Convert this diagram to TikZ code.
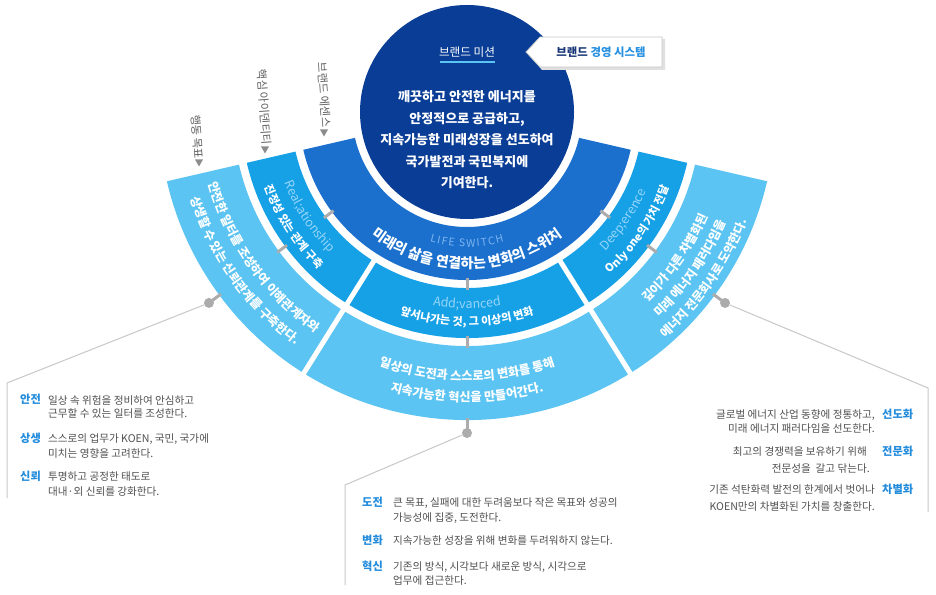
\documentclass[tikz,border=0pt]{standalone}
\usepackage{fontspec}
\setmainfont{Noto Sans CJK KR}
\usetikzlibrary{decorations.text,calc}
\definecolor{navy}{RGB}{10,62,150}
\definecolor{bandA}{RGB}{27,112,205}
\definecolor{bandB}{RGB}{22,160,230}
\definecolor{bandC}{RGB}{92,196,242}
\definecolor{paleB}{RGB}{150,214,248}
\definecolor{paleA}{RGB}{125,180,240}
\definecolor{tickgray}{RGB}{172,172,172}
\definecolor{linegray}{RGB}{200,200,200}
\definecolor{headblue}{RGB}{35,140,220}
\definecolor{bodygray}{RGB}{80,80,80}
\definecolor{labelgray}{RGB}{95,95,95}
\definecolor{boxnavy}{RGB}{25,55,120}
\definecolor{boxblue}{RGB}{40,145,225}
\newcommand{\sector}[5]{\fill[#1] (#2:#4pt) arc[start angle=#2,end angle=#3,radius=#4pt] -- (#3:#5pt) arc[start angle=#3,end angle=#2,radius=#5pt] -- cycle;}
\newcommand{\arctext}[3]{\path[decorate,decoration={text along path,text align=center,text={#3}}] ({#2-70}:#1pt) arc[start angle={#2-70},end angle={#2+70},radius=#1pt];}
\newcommand{\wtb}{|\color{white}\bfseries\fontsize{12.2}{14}\selectfont|}
\newcommand{\wtm}{|\color{white}\bfseries\fontsize{11.1}{13}\selectfont|}
\newcommand{\ltm}{|\color{paleB}\fontsize{12.5}{14}\selectfont|}
\newcommand{\ks}{{\kern1.3pt}}
\tikzset{
  body/.style={font=\fontsize{10.6}{12}\selectfont, text=bodygray, inner sep=0pt},
  head/.style={font=\bfseries\fontsize{11.2}{13}\selectfont, text=headblue, inner sep=0pt},
  rotlabel/.style={font=\fontsize{11.3}{13}\selectfont, text=labelgray, rotate=-86, inner sep=0pt},
  dot/.style={circle, fill=tickgray, minimum size=10pt, inner sep=0pt},
  tick/.style={tickgray, line width=3pt},
  leader/.style={linegray, line width=1pt},
  gap/.style={white, line width=5pt},
}
\begin{document}
\begin{tikzpicture}[x=1pt,y=1pt]
\useasboundingbox (0,0) rectangle (936,594);
\fill[white] (0,0) rectangle (936,594);
\coordinate (C) at (467,482);
\begin{scope}[shift={(C)}]
  % rings
  \sector{bandA}{193}{347}{115}{168}
  \sector{bandB}{193}{347}{176}{226}
  \sector{bandC}{193}{347}{234}{308}
  \draw[gap] (238:172pt) -- (238:312pt);
  \draw[gap] (302:172pt) -- (302:312pt);
  % mission circle
  \fill[navy] (0,0) circle[radius=107pt];
  % ticks between rings
  \foreach \a in {216.5,270,323.5}{
    \draw[tick] (\a:166pt) -- (\a:178pt);
    \draw[tick] (\a:224pt) -- (\a:236pt);
  }
  % dots
  \node[dot] (dL) at (216.5:321pt) {};
  \node[dot] (dM) at (270:321pt) {};
  \node[dot] (dR) at (323.5:321pt) {};
  \draw[tick] (216.5:306pt) -- (dL.center);
  \draw[tick] (270:306pt) -- (dM.center);
  \draw[tick] (323.5:306pt) -- (dR.center);
  % arc texts
  \arctext{135}{270}{|\color{paleA}\fontsize{10.5}{13}\selectfont|L\ks I\ks F\ks E \ S\ks W\ks I\ks T\ks C\ks H}
  \arctext{156.5}{270}{|\color{white}\bfseries\fontsize{14}{16}\selectfont|미래의 삶을 연결하는 변화의 스위치}
  \arctext{196}{213.5}{\ltm Real{;}ationship}
  \arctext{216}{213.5}{\wtm 진정성 있는 관계 구축}
  \arctext{196.5}{270}{\ltm Add{;}vanced}
  \arctext{213.5}{270}{\wtm 앞서나가는 것, 그 이상의 변화}
  \arctext{196}{325.5}{\ltm Deep{;}erence}
  \arctext{216}{325.5}{\wtm Only one의 가치 전달}
  \arctext{268}{215.5}{\wtb 안전한 일터를 조성하여 이해관계자와}
  \arctext{289.5}{215.5}{\wtb 상생할 수 있는 신뢰관계를 구축한다.}
  \arctext{268.5}{270}{\wtb 일상의 도전과 스스로의 변화를 통해}
  \arctext{289.5}{270}{\wtb 지속가능한 혁신을 만들어간다.}
  \arctext{262.5}{325}{\wtb 깊이가 다른 차별화된}
  \arctext{281.5}{325}{\wtb 미래 에너지 패러다임을}
  \arctext{300.5}{325}{\wtb 에너지 전문회사로 도약한다.}
\end{scope}
% leader lines
\coordinate (kL) at (7,211);
\coordinate (eL) at (7,96);
\coordinate (kM) at (345,109);
\coordinate (eM) at (345,9);
\coordinate (kR) at (928,206);
\coordinate (eR) at (928,82);
\draw[leader] (dL) -- (kL) -- (eL);
\draw[leader] (dM) -- (kM) -- (eM);
\draw[leader] (dR) -- (kR) -- (eR);
% mission
\node[font=\fontsize{11.6}{13}\selectfont, text=white, inner sep=0pt] (mtitle) at (467,542) {브랜드 미션};
\draw[bandC, line width=1.6pt] (440,532) -- (495,532);
\node[align=center, font=\bfseries\fontsize{13}{21.5}\selectfont, text=white] (mission) at (467,454) {깨끗하고 안전한 에너지를\\안정적으로 공급하고,\\지속가능한 미래성장을 선도하여\\국가발전과 국민복지에\\기여한다.};
% system box
\fill[black!12] (528,540) -- (542,555) -- (665,555) -- (665,524) -- (542,524) -- cycle;
\filldraw[fill=white, draw=black!22, line width=0.8pt] (526,542) -- (540,557) -- (662,557) -- (662,527) -- (540,527) -- cycle;
\node[font=\bfseries\fontsize{11.4}{13}\selectfont, inner sep=0pt] (sys) at (601,542) {\textcolor{boxnavy}{브랜드} \textcolor{boxblue}{경영 시스템}};
% rotated labels
\node[rotlabel] (lab1) at (197,457) {행동 목표};
\node[rotlabel] (lab2) at (264,487) {핵심 아이덴티티};
\node[rotlabel] (lab3) at (324,499) {브랜드 에센스};
\foreach \x/\y in {199/431, 265/444, 324/461}{
  \fill[black!45] (\x-4,\y+3.5) -- (\x+4,\y+3.5) -- (\x,\y-3.5) -- cycle;
}
% left block
\node[head, anchor=base west] (h1) at (20,190) {안전};
\node[body, anchor=base west] (b1a) at (48,189) {일상 속 위험을 정비하여 안심하고};
\node[body, anchor=base west] (b1b) at (48,176) {근무할 수 있는 일터를 조성한다.};
\node[head, anchor=base west] (h2) at (20,151) {상생};
\node[body, anchor=base west] (b2a) at (48,151) {스스로의 업무가 KOEN, 국민, 국가에};
\node[body, anchor=base west] (b2b) at (48,136) {미치는 영향을 고려한다.};
\node[head, anchor=base west] (h3) at (20,113) {신뢰};
\node[body, anchor=base west] (b3a) at (48,113) {투명하고 공정한 태도로};
\node[body, anchor=base west] (b3b) at (48,98) {대내·외 신뢰를 강화한다.};
% right block
\node[head, anchor=base west] (h4) at (882,175) {선도화};
\node[body, anchor=base east] (b4a) at (875,175) {글로벌 에너지 산업 동향에 정통하고,};
\node[body, anchor=base east] (b4b) at (875,161) {미래 에너지 패러다임을 선도한다.};
\node[head, anchor=base west] (h5) at (882,138) {전문화};
\node[body, anchor=base east] (b5a) at (867,138) {최고의 경쟁력을 보유하기 위해};
\node[body, anchor=base east] (b5b) at (870,121) {전문성을 \ 갈고 닦는다.};
\node[head, anchor=base west] (h6) at (882,100) {차별화};
\node[body, anchor=base east] (b6a) at (875,100) {기존 석탄화력 발전의 한계에서 벗어나};
\node[body, anchor=base east] (b6b) at (875,84) {KOEN만의 차별화된 가치를 창출한다.};
% center block
\node[head, anchor=base west] (h7) at (362,88) {도전};
\node[body, anchor=base west] (b7a) at (393,88) {큰 목표, 실패에 대한 두려움보다 작은 목표와 성공의};
\node[body, anchor=base west] (b7b) at (393,72) {가능성에 집중, 도전한다.};
\node[head, anchor=base west] (h8) at (362,50) {변화};
\node[body, anchor=base west] (b8a) at (393,50) {지속가능한 성장을 위해 변화를 두려워하지 않는다.};
\node[head, anchor=base west] (h9) at (362,24) {혁신};
\node[body, anchor=base west] (b9a) at (393,24) {기존의 방식, 시각보다 새로운 방식, 시각으로};
\node[body, anchor=base west] (b9b) at (393,10) {업무에 접근한다.};
\end{tikzpicture}
\end{document}
